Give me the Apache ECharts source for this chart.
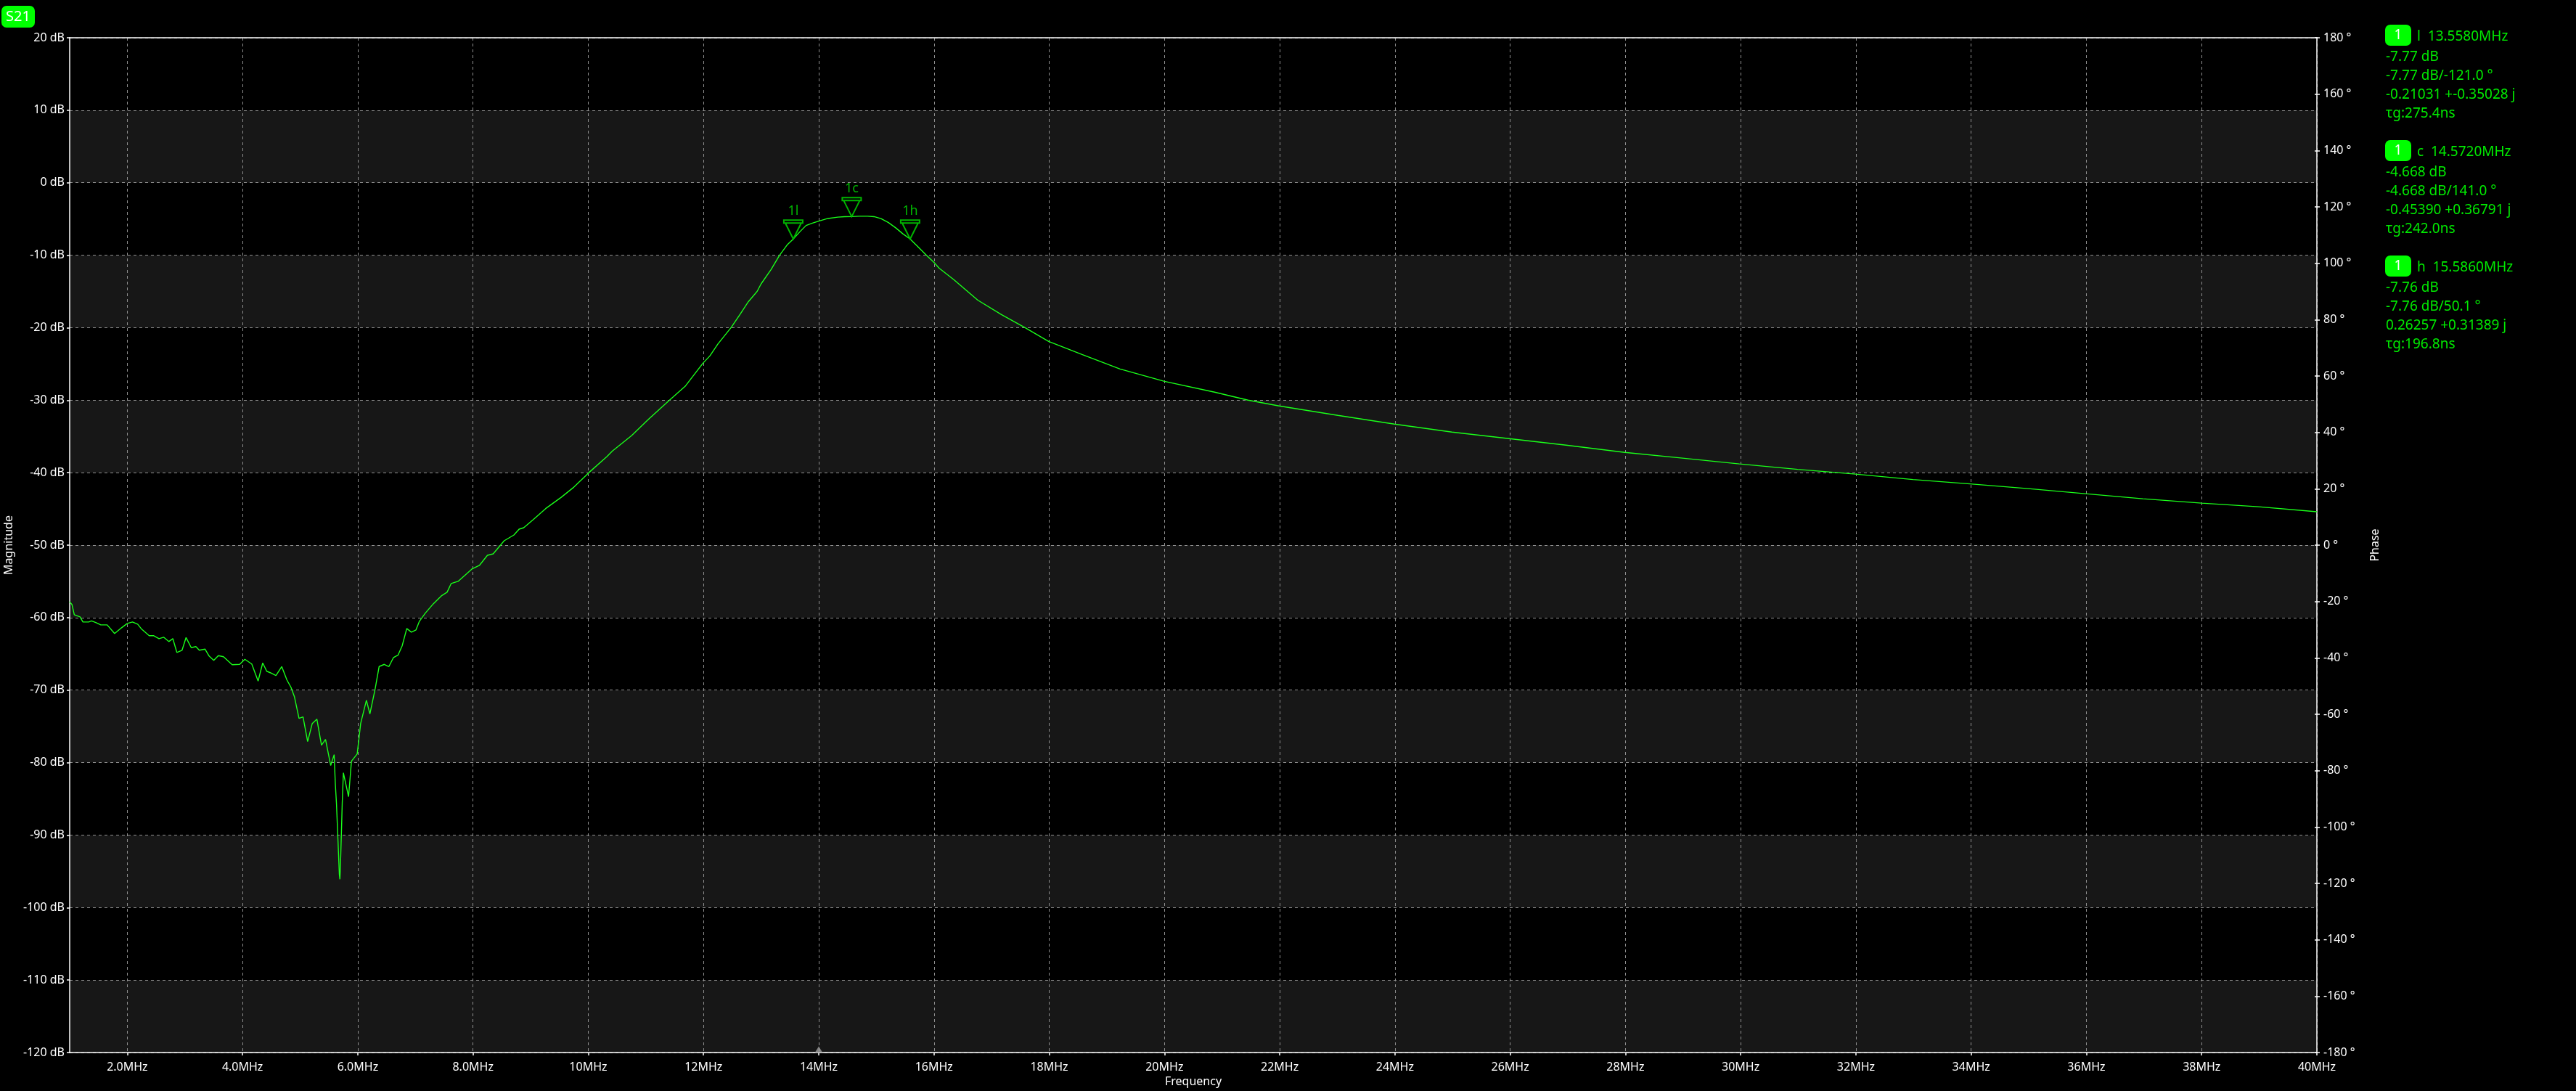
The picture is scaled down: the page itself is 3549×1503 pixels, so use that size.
<!DOCTYPE html>
<html>
<head>
<meta charset="utf-8">
<title>S21</title>
<script src="https://cdn.jsdelivr.net/npm/echarts@6/dist/echarts.min.js"></script>
<style>
  html, body { margin: 0; padding: 0; background: #000; }
  #chart { width: 3549px; height: 1503px; }
</style>
</head>
<body>
<div id="chart"></div>
<script>
// S21 sweep, 1 - 40 MHz
const freqMHz = [
  1.00, 1.04, 1.08, 1.18, 1.23, 1.33, 1.38, 1.46, 1.54, 1.65, 1.78, 1.90, 2.00, 2.09, 2.18, 2.25,
  2.38, 2.46, 2.55, 2.63, 2.72, 2.79, 2.86, 2.95, 3.02, 3.11, 3.19, 3.25, 3.35, 3.42, 3.50, 3.58,
  3.67, 3.82, 3.95, 4.04, 4.16, 4.27, 4.35, 4.42, 4.48, 4.58, 4.68, 4.77, 4.84, 4.90, 4.98, 5.05,
  5.13, 5.21, 5.29, 5.37, 5.44, 5.53, 5.59, 5.61, 5.63, 5.655, 5.68, 5.69, 5.70, 5.72, 5.73, 5.75,
  5.84, 5.89, 5.99, 6.05, 6.15, 6.21, 6.30, 6.37, 6.46, 6.54, 6.62, 6.70, 6.77, 6.85, 6.93, 7.01,
  7.07, 7.17, 7.31, 7.45, 7.55, 7.62, 7.74, 7.98, 8.11, 8.25, 8.35, 8.54, 8.71, 8.80, 8.88, 9.05,
  9.26, 9.53, 9.75, 10.01, 10.32, 10.42, 10.75, 11.05, 11.41, 11.68, 11.99, 12.11, 12.25, 12.48, 12.64, 12.78,
  12.93, 13.00, 13.17, 13.32, 13.45, 13.558, 13.68, 13.78, 13.89, 14.01, 14.16, 14.33, 14.45, 14.572, 14.70, 14.85,
  14.96, 15.08, 15.21, 15.34, 15.46, 15.586, 15.71, 15.88, 16.00, 16.09, 16.34, 16.76, 17.17, 17.58, 17.99, 18.57,
  19.23, 20.00, 20.87, 21.45, 21.99, 23.01, 23.99, 24.99, 25.98, 26.97, 27.99, 28.99, 29.98, 30.99, 31.99, 32.99,
  33.98, 34.99, 35.98, 36.98, 38.00, 38.99, 40.00
];
const s21dB = [
  -57.8, -58.2, -59.6, -59.9, -60.6, -60.6, -60.45, -60.7, -61.0, -61.0, -62.2, -61.4, -60.8, -60.6, -60.9, -61.6,
  -62.5, -62.5, -62.9, -62.7, -63.3, -62.9, -64.8, -64.5, -62.75, -64.15, -64.0, -64.5, -64.35, -65.3, -65.9, -65.25,
  -65.4, -66.5, -66.45, -65.75, -66.4, -68.75, -66.25, -67.4, -67.6, -68.0, -66.75, -68.6, -69.6, -70.9, -73.9, -73.7,
  -77.1, -74.6, -74.0, -77.6, -76.8, -80.4, -78.9, -82.9, -85.6, -90.5, -95.4, -96.1, -94.0, -88.5, -85.6, -81.4,
  -84.7, -79.8, -78.8, -74.6, -71.4, -73.3, -69.9, -66.75, -66.45, -66.75, -65.5, -65.15, -63.9, -61.5, -62.0, -61.7,
  -60.5, -59.4, -58.1, -57.0, -56.5, -55.3, -55.0, -53.3, -52.8, -51.4, -51.2, -49.4, -48.6, -47.8, -47.6, -46.45,
  -44.96, -43.4, -42.0, -40.0, -37.8, -37.0, -34.9, -32.6, -30.0, -28.1, -24.9, -23.9, -22.25, -19.97, -18.1, -16.4,
  -15.0, -13.95, -12.0, -10.0, -8.6, -7.77, -6.7, -5.9, -5.57, -5.27, -4.93, -4.75, -4.68, -4.668, -4.62, -4.62,
  -4.68, -4.95, -5.5, -6.25, -7.05, -7.76, -8.75, -10.1, -11.0, -11.8, -13.35, -16.2, -18.2, -20.0, -21.9, -23.7,
  -25.7, -27.4, -28.9, -30.0, -30.8, -32.1, -33.3, -34.4, -35.3, -36.2, -37.2, -38.0, -38.8, -39.55, -40.2, -40.95,
  -41.55, -42.2, -42.9, -43.6, -44.2, -44.7, -45.4
];
const freqTicks = [2, 4, 6, 8, 10, 12, 14, 16, 18, 20, 22, 24, 26, 28, 30, 32, 34, 36, 38, 40];
const freqRange = [1, 40];
const magRange = [-120, 20];
const phaseRange = [-180, 180];
const axisMarkFreq = [14];

// marker readouts
const markerNames = ['l', 'c', 'h'];
const markerFreq = ['13.5580', '14.5720', '15.5860'];
const markerDb = ['-7.77', '-4.668', '-7.76'];
const markerPhase = ['-121.0', '141.0', '50.1'];
const markerRe = ['-0.21031', '-0.45390', '0.26257'];
const markerIm = ['-0.35028', '0.36791', '0.31389'];
const markerDelay = ['275.4', '242.0', '196.8'];

const FONT = '"Noto Sans", "Open Sans", sans-serif';
const GREEN = '#00ea00';
const MARK_GREEN = '#00b400';
const pairs = freqMHz.map((f, i) => [f, s21dB[i]]);

const graphics = [
  { type: 'rect', shape: { x: 2, y: 8, width: 46, height: 30, r: 7 }, style: { fill: '#00ff00' } },
  { type: 'text', x: 25, y: 23, style: { text: 'S21', fill: '#ffffff', font: '20px ' + FONT, align: 'center', verticalAlign: 'middle' } }
];
markerNames.forEach((name, i) => {
  const top = 34 + i * 159;
  graphics.push({ type: 'rect', shape: { x: 3286, y: top, width: 36, height: 29, r: 7 }, style: { fill: '#00ff00' } });
  graphics.push({ type: 'text', x: 3304, y: top + 15, style: { text: '1', fill: '#ffffff', font: '19px ' + FONT, align: 'center', verticalAlign: 'middle' } });
  graphics.push({ type: 'text', x: 3330, y: top + 17, style: { text: name + '  ' + markerFreq[i] + 'MHz', fill: GREEN, font: '19px ' + FONT, verticalAlign: 'middle' } });
  const lines = [
    markerDb[i] + ' dB',
    markerDb[i] + ' dB/' + markerPhase[i] + ' °',
    markerRe[i] + ' +' + markerIm[i] + ' j',
    'τg:' + markerDelay[i] + 'ns'
  ];
  lines.forEach((t, k) => {
    graphics.push({ type: 'text', x: 3287, y: top + 45 + k * 26, style: { text: t, fill: GREEN, font: '19px ' + FONT, verticalAlign: 'middle' } });
  });
});

const chart = echarts.init(document.getElementById('chart'));
chart.setOption({
  animation: false,
  backgroundColor: '#000000',
  grid: { left: 96, right: 357, top: 52, bottom: 53, outerBoundsMode: 'none' },
  xAxis: [
    {
      type: 'value',
      min: freqRange[0],
      max: freqRange[1],
      name: 'Frequency',
      nameLocation: 'middle',
      nameGap: 30,
      nameTextStyle: { color: '#ffffff', fontSize: 16, fontFamily: FONT },
      axisLine: { onZero: false, lineStyle: { color: '#ffffff', width: 1.5 } },
      axisTick: { customValues: freqTicks, length: 4, lineStyle: { color: '#ffffff', width: 1.5 } },
      axisLabel: {
        customValues: freqTicks,
        margin: 12,
        color: '#ffffff',
        fontSize: 16,
        fontFamily: FONT,
        formatter: v => (v < 10 ? v.toFixed(1) : String(v)) + 'MHz'
      },
      splitLine: { show: true, lineStyle: { color: '#8f8f8f', type: [4, 4], width: 1 } }
    },
    {
      type: 'value',
      position: 'top',
      min: freqRange[0],
      max: freqRange[1],
      axisLine: { onZero: false, lineStyle: { color: '#ffffff', width: 1.5 } },
      axisTick: { show: false },
      axisLabel: { show: false },
      splitLine: { show: false }
    }
  ],
  yAxis: [
    {
      type: 'value',
      min: magRange[0],
      max: magRange[1],
      interval: 10,
      name: 'Magnitude',
      nameLocation: 'middle',
      nameGap: 76,
      nameTextStyle: { color: '#ffffff', fontSize: 16, fontFamily: FONT },
      axisLine: { show: true, onZero: false, lineStyle: { color: '#ffffff', width: 1.5 } },
      axisTick: { show: true, length: 4, lineStyle: { color: '#ffffff', width: 1.5 } },
      axisLabel: { margin: 7, color: '#ffffff', fontSize: 16, fontFamily: FONT, formatter: v => v + ' dB' },
      splitLine: { show: true, lineStyle: { color: '#8f8f8f', type: [4, 4], width: 1 } },
      splitArea: { show: true, areaStyle: { color: ['#171717', '#000000'] } }
    },
    {
      type: 'value',
      position: 'right',
      min: phaseRange[0],
      max: phaseRange[1],
      interval: 20,
      name: 'Phase',
      nameLocation: 'middle',
      nameGap: 72,
      nameRotate: 90,
      nameTextStyle: { color: '#ffffff', fontSize: 16, fontFamily: FONT },
      axisLine: { show: true, onZero: false, lineStyle: { color: '#ffffff', width: 1.5 } },
      axisTick: { show: true, length: 4, lineStyle: { color: '#ffffff', width: 1.5 } },
      axisLabel: { margin: 9, color: '#ffffff', fontSize: 16, fontFamily: FONT, formatter: v => v + ' °' },
      splitLine: { show: false }
    },
    {
      type: 'value',
      position: 'right',
      min: phaseRange[0],
      max: phaseRange[1],
      interval: 20,
      axisLine: { show: false },
      axisTick: { show: true, inside: true, length: 3, lineStyle: { color: '#ffffff', width: 1.5 } },
      axisLabel: { show: false },
      splitLine: { show: false }
    }
  ],
  graphic: graphics,
  series: [
    {
      name: 'S21',
      type: 'line',
      data: pairs,
      showSymbol: false,
      lineStyle: { color: '#1aff1a', width: 1.4 },
      markPoint: {
        symbol: 'path://M0,0H26V4H0Z M2,4L13,26L24,4',
        symbolSize: [26, 26],
        symbolOffset: [0, '-50%'],
        itemStyle: { color: 'none', borderColor: MARK_GREEN, borderWidth: 2 },
        label: { show: true, position: 'top', distance: 1, color: MARK_GREEN, fontSize: 18, fontFamily: FONT, formatter: '{b}' },
        data: markerNames.map((n, i) => ({ name: '1' + n, coord: [parseFloat(markerFreq[i]), parseFloat(markerDb[i])] }))
      }
    },
    {
      type: 'scatter',
      data: axisMarkFreq.map(f => [f, magRange[0]]),
      symbol: 'triangle',
      symbolSize: [11, 9],
      symbolOffset: [0, -4],
      clip: false,
      itemStyle: { color: '#a0a0a0' },
      z: 5
    }
  ]
});
</script>
</body>
</html>
